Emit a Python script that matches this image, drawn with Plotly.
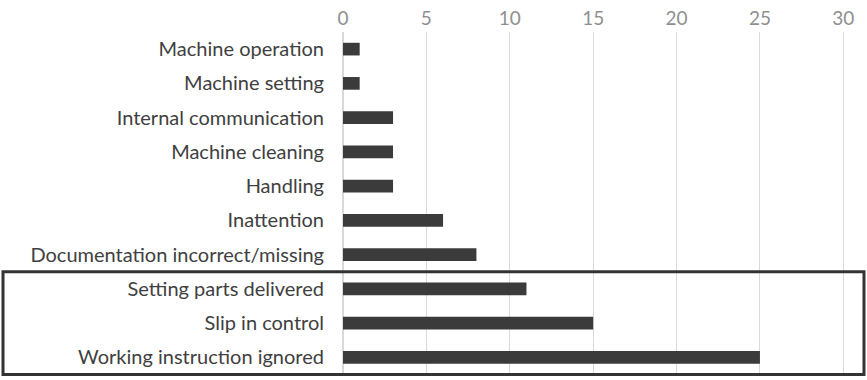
import plotly.graph_objects as go

categories = [
    "Machine operation",
    "Machine setting",
    "Internal communication",
    "Machine cleaning",
    "Handling",
    "Inattention",
    "Documentation incorrect/missing",
    "Setting parts delivered",
    "Slip in control",
    "Working instruction ignored",
]
counts = [1, 1, 3, 3, 3, 6, 8, 11, 15, 25]
x_ticks = [0, 5, 10, 15, 20, 25, 30]

fig = go.Figure(
    go.Bar(
        x=counts,
        y=categories,
        orientation="h",
        marker=dict(color="#3b3b3b", line=dict(width=0)),
        width=0.37,
    )
)

# frame around the three most frequent causes
fig.add_shape(
    type="rect",
    xref="paper", yref="y",
    x0=-0.6706, x1=1.0276,
    y0=6.5, y1=9.5,
    line=dict(color="#333333", width=3),
    fillcolor="rgba(0,0,0,0)",
    layer="above",
)

fig.update_layout(
    width=867, height=380,
    margin=dict(l=343, r=17, t=32, b=4),
    paper_bgcolor="white",
    plot_bgcolor="white",
    showlegend=False,
    font=dict(family="Lato", size=20, color="#404040"),
)
fig.update_xaxes(
    side="top",
    range=[0, 30.4],
    tickvals=x_ticks,
    showgrid=True,
    gridcolor="#d9d9d9",
    gridwidth=1,
    zeroline=True,
    zerolinecolor="#d9d9d9",
    showline=False,
    ticks="",
    ticklabelstandoff=2,
    tickfont=dict(family="Lato", size=19, color="#8f8f8f"),
)
fig.update_yaxes(
    autorange="reversed",
    showgrid=False,
    showline=False,
    ticks="",
    ticklabelstandoff=18,
    tickfont=dict(family="Lato", size=20, color="#404040"),
)

fig.write_html("out.html")
